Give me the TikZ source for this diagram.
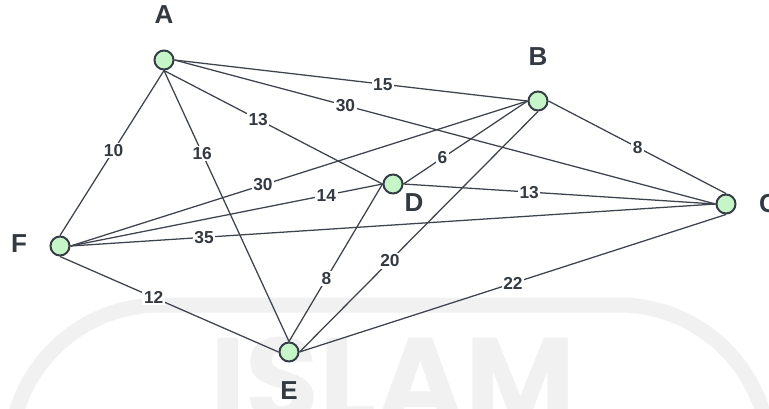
\documentclass[tikz,border=0pt]{standalone}
\usepackage{fontspec}
\setmainfont{Liberation Sans}
\newfontfamily\wmfont{Poppins}
\definecolor{nodefill}{RGB}{198,245,200}
\definecolor{nodeline}{RGB}{55,62,72}
\definecolor{edgecol}{RGB}{62,68,78}
\definecolor{txt}{RGB}{52,58,66}
\definecolor{wm}{RGB}{241,241,241}
\begin{document}
\begin{tikzpicture}[x=0.75pt,y=-0.75pt,
  vtx/.style={circle,draw=nodeline,fill=nodefill,line width=1.5pt,minimum size=14.25pt,inner sep=0pt},
  vlab/.style={font=\bfseries\fontsize{19.5}{20}\selectfont,text=txt,inner sep=0pt},
  edge/.style={draw=edgecol,line width=0.95pt},
  wlab/.style={fill=white,font=\bfseries\fontsize{13}{14}\selectfont,text=txt,inner sep=1.2pt}]
\useasboundingbox (0,0) rectangle (769,408);
\fill[white] (0,0) rectangle (769,408);
% watermark
\draw[wm,line width=11.25pt,rounded corners=112.5pt] (10,600) -- (10,305) -- (769,305) -- (769,600);
\node[anchor=north west,inner sep=0pt,text=wm,font=\wmfont\bfseries\fontsize{90}{92}\selectfont] (wmtext) at (210,337) {ISLAM};
% vertices
\node[vtx] (A) at (164,60) {};
\node[vtx] (B) at (538,101) {};
\node[vtx] (C) at (726,204) {};
\node[vtx] (D) at (393,184) {};
\node[vtx] (E) at (289,352) {};
\node[vtx] (F) at (60,246) {};
% vertex labels
\node[vlab] (lA) at (164,14.5) {A};
\node[vlab] (lB) at (538,56.5) {B};
\node[vlab] (lC) at (768.4,203.5) {C};
\node[vlab] (lD) at (414,202.7) {D};
\node[vlab] (lE) at (289,391) {E};
\node[vlab] (lF) at (19,244) {F};
% edges
\draw[edge] (A.east) -- node[wlab,pos=0.59] (w1) {15} (B.west);
\draw[edge] (A.east) -- node[wlab,pos=0.316] (w2) {30} (C.west);
\draw[edge] (A.south) -- node[wlab,pos=0.431] (w3) {13} (D.west);
\draw[edge] (A.south) -- node[wlab,pos=0.485] (w4) {10} (F.north);
\draw[edge] (A.south) -- node[wlab,pos=0.306] (w5) {16} (E.north);
\draw[edge] (F.east) -- node[wlab,pos=0.421] (w6) {30} (B.west);
\draw[edge] (F.east) -- node[wlab,pos=0.82] (w7) {14} (D.west);
\draw[edge] (F.east) -- node[wlab,pos=0.207] (w8) {35} (C.west);
\draw[edge] (F.south) -- node[wlab,pos=0.429] (w9) {12} (E.west);
\draw[edge] (D.east) -- node[wlab,pos=0.314] (w10) {6} (B.west);
\draw[edge] (D.east) -- node[wlab,pos=0.403] (w11) {13} (C.west);
\draw[edge] (B.east) -- node[wlab,pos=0.502] (w12) {8} (C.north);
\draw[edge] (D.west) -- node[wlab,pos=0.6] (w13) {8} (E.north);
\draw[edge] (B.south) -- node[wlab,pos=0.621] (w14) {20} (E.east);
\draw[edge] (C.south) -- node[wlab,pos=0.4995] (w15) {22} (E.east);
\end{tikzpicture}
\end{document}
